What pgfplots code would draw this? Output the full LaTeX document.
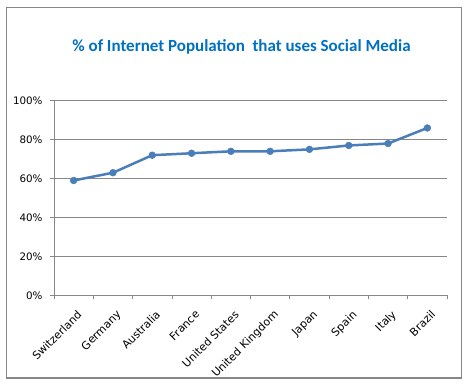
\documentclass[border=0pt]{standalone}
\usepackage{pgfplots}
\pgfplotsset{compat=1.18}
\usepackage{fontspec}
\setmainfont{DejaVu Sans}
\newfontfamily\titlefont{Carlito}
\definecolor{excelblue}{HTML}{4A7EBB}
\definecolor{titleblue}{HTML}{0070C0}
\definecolor{gridgray}{HTML}{878787}
\begin{document}
\begin{tikzpicture}[x=1bp,y=1bp]
\path (0,0) rectangle (469,-386);
\draw[gridgray, line width=1.2bp] (6.5,-7.5) rectangle (461.5,-378);
\node[font=\titlefont\bfseries\fontsize{17bp}{19bp}\selectfont, text=titleblue] at (241.5,-47) {\% of Internet Population\ \ that uses Social Media};
\begin{axis}[
  at={(54bp,-295.3bp)}, anchor=south west,
  scale only axis, width=393bp, height=194.6bp,
  xmin=-0.5, xmax=9.5, ymin=0, ymax=100,
  axis x line*=bottom, axis y line*=left,
  axis line style={gridgray, line width=0.8bp, -},
  ytick={0,20,...,100},
  yticklabel={\pgfmathparse{int(\tick)}\pgfmathresult\%},
  ymajorgrids, major grid style={gridgray, line width=0.8bp},
  xtick={0,...,9},
  xticklabels={Switzerland,Germany,Australia,France,United States,United Kingdom,Japan,Spain,Italy,Brazil},
  x tick label style={rotate=45, anchor=north east, font=\fontsize{11bp}{13bp}\selectfont, inner sep=1bp, yshift=-8bp, xshift=-4bp},
  y tick label style={font=\fontsize{10.3bp}{12bp}\selectfont, xshift=-4bp},
  major x tick style={draw=none},
  minor xtick={-0.5,0.5,...,9.5},
  tick align=outside,
  major tick length=4bp, minor tick length=4bp,
  tick style={gridgray, line width=0.8bp},
  clip=false,
]
\addplot[excelblue, line width=2.5bp, mark=*, mark size=3.4bp, mark options={fill=excelblue, draw=excelblue, line width=0.5bp}] coordinates {
(0,59) (1,63) (2,72) (3,73) (4,74) (5,74) (6,75) (7,77) (8,78) (9,86)};
\end{axis}
\end{tikzpicture}
\end{document}
